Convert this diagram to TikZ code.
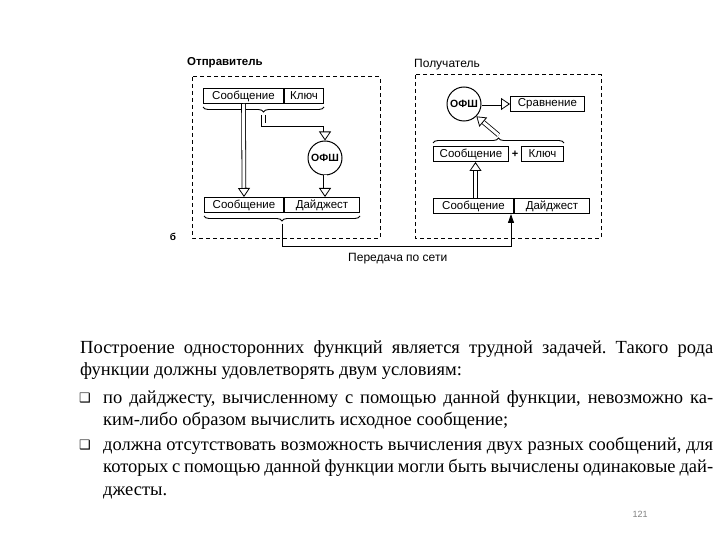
\documentclass[tikz,border=0pt]{standalone}
\usepackage{fontspec}
\setmainfont{Liberation Serif}
\setsansfont{Liberation Sans}
\newfontfamily\symfont{DejaVu Sans}
\usetikzlibrary{positioning,arrows.meta,decorations.pathreplacing}
\frenchspacing
\tikzset{
  fieldbox/.style={draw, line width=1pt, minimum height=15, inner sep=0pt, font=\sffamily\fontsize{11.5}{11.5}\selectfont},
  hashnode/.style={draw, circle, line width=1pt, minimum size=34, inner sep=0pt, font=\sffamily\bfseries\fontsize{10.5}{10.5}\selectfont},
  groupbox/.style={draw, dash pattern=on 4pt off 3pt, line width=1pt},
  bracepath/.style={decorate, decoration={brace, amplitude=5pt}, line width=0.9pt},
  hollowarrow/.style={double, double distance=3pt, line width=0.8pt, -{Triangle[open, length=9pt, width=12pt, line width=0.8pt]}},
  netline/.style={line width=0.9pt, -{Triangle[length=9pt, width=6pt]}},
  title/.style={font=\sffamily\fontsize{12}{12}\selectfont, anchor=west, inner sep=0pt},
  bodyline/.style={anchor=base west, inner sep=0pt, font=\fontsize{18.5}{22}\selectfont},
  bulletmark/.style={inner sep=0pt, font=\symfont\fontsize{13}{13}\selectfont}
}
\begin{document}
\begin{tikzpicture}[x=1pt, y=-1pt]
  \fill[white] (0,0) rectangle (720,540);
  \useasboundingbox (0,0) rectangle (720,540);

  % sender
  \node[title, font=\sffamily\bfseries\fontsize{11.5}{11.5}\selectfont] (sendlbl) at (187,63) {Отправитель};
  \draw[groupbox] (192,77) rectangle (380,238);
  \node[fieldbox, minimum width=80, anchor=north west] (smsg) at (203,88) {Сообщение};
  \node[fieldbox, minimum width=39, anchor=west] (skey) at (smsg.east) {Ключ};
  \draw[bracepath] ([yshift=-3pt]skey.south east) -- ([yshift=-3pt]smsg.south west)
    coordinate[midway, yshift=-8pt] (stip);
  \node[hashnode] (sofs) at (325,158) {ОФШ};
  \node[fieldbox, minimum width=79, anchor=north west] (sbmsg) at (204,197) {Сообщение};
  \node[fieldbox, minimum width=75, anchor=west] (sbdig) at (sbmsg.east) {Дайджест};
  \draw[bracepath] ([yshift=-3pt]sbdig.south east) -- ([yshift=-3pt]sbmsg.south west)
    coordinate[midway, yshift=-8pt] (sbtip);
  \draw[hollowarrow] (stip) -- ++(0,10) -| (sofs.north);
  \draw[hollowarrow] (smsg.south) -- (sbmsg.north);
  \draw[hollowarrow] (sofs.south) -- (sofs.south |- sbdig.north);
  \node[font=\sffamily\bfseries\fontsize{10}{10}\selectfont] (panel) at (173,237) {б};

  % receiver
  \node[title] (recvlbl) at (414,65) {Получатель};
  \draw[groupbox] (415,75) rectangle (601,238);
  \node[hashnode] (rofs) at (464,104) {ОФШ};
  \node[fieldbox, minimum width=74, anchor=west] (rcmp) at (510,104) {Сравнение};
  \node[fieldbox, minimum width=75, anchor=north west] (rmsg) at (433,146) {Сообщение};
  \node[fieldbox, minimum width=42, anchor=west] (rkey) at ([xshift=12pt]rmsg.east) {Ключ};
  \node[inner sep=0pt, font=\sffamily\bfseries\fontsize{11}{11}\selectfont] (plus) at ([xshift=6pt]rmsg.east) {+};
  \draw[bracepath] ([yshift=3pt]rmsg.north west) -- ([yshift=3pt]rkey.north east)
    coordinate[midway, yshift=8pt] (rtip);
  \node[fieldbox, minimum width=80, anchor=north west] (rbmsg) at (433,198) {Сообщение};
  \node[fieldbox, minimum width=75, anchor=west] (rbdig) at (rbmsg.east) {Дайджест};
  \draw[hollowarrow] (rofs.east) -- (rcmp.west);
  \draw[hollowarrow] (rtip) -- (rofs.-45);
  \draw[hollowarrow] ([xshift=2pt]rbmsg.north) -- ([xshift=2pt]rbmsg.north |- rmsg.south);

  % network
  \draw[netline] (sbtip) -- ++(0,22) -| ([xshift=-3pt]rbmsg.south east);
  \node[title] (netlbl) at (348,259) {Передача по сети};

  % text below
  \node[bodyline] (p1) at (80,353) {\makebox[633pt][s]{Построение односторонних функций является трудной задачей. Такого рода}};
  \node[bodyline] (p2) at (80,375) {функции должны удовлетворять двум условиям:};
  \node[bulletmark] (b1) at (85,398) {❑};
  \node[bodyline] (i1a) at (103,403) {\makebox[610pt][s]{по дайджесту, вычисленному с помощью данной функции, невозможно ка-}};
  \node[bodyline] (i1b) at (103,425) {ким-либо образом вычислить исходное сообщение;};
  \node[bulletmark] (b2) at (85,445) {❑};
  \node[bodyline] (i2a) at (103,450) {\makebox[610pt][s]{должна отсутствовать возможность вычисления двух разных сообщений, для}};
  \node[bodyline] (i2b) at (103,472) {\makebox[610pt][s]{которых с помощью данной функции могли быть вычислены одинаковые дай-}};
  \node[bodyline] (i2c) at (103,495) {джесты.};
  \node[font=\sffamily\fontsize{9}{9}\selectfont, text=gray] (pgno) at (640,514) {121};
\end{tikzpicture}
\end{document}
